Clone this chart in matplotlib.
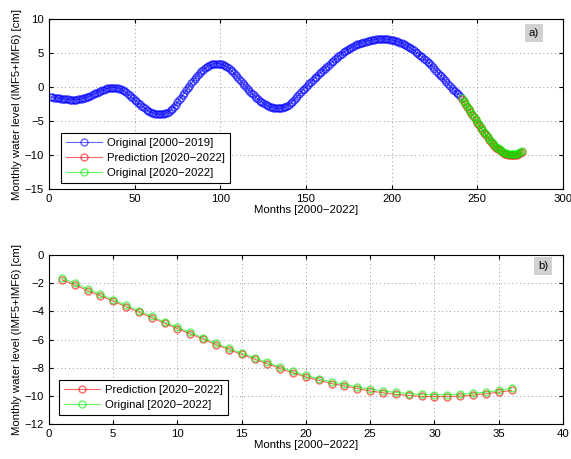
import matplotlib

matplotlib.use("Agg")
import matplotlib.pyplot as plt
import numpy as np

plt.rcParams["font.family"] = ["Liberation Sans", "DejaVu Sans"]
plt.rcParams["font.size"] = 8.2

# IMF5+IMF6 reconstruction, monthly, 2000-2019 (months 1..240)
orig_hist = [
    -1.45, -1.50, -1.55, -1.59, -1.63, -1.67, -1.71, -1.74, -1.77, -1.80, -1.82, -1.84,
    -1.85, -1.86, -1.86, -1.85, -1.83, -1.79, -1.74, -1.68, -1.60, -1.51, -1.41, -1.30,
    -1.18, -1.06, -0.94, -0.82, -0.70, -0.58, -0.47, -0.37, -0.28, -0.20, -0.14, -0.10,
    -0.08, -0.08, -0.11, -0.17, -0.22, -0.32, -0.45, -0.62, -0.80, -1.00, -1.21, -1.43,
    -1.66, -1.89, -2.12, -2.34, -2.56, -2.77, -2.97, -3.16, -3.33, -3.49, -3.63, -3.75,
    -3.85, -3.93, -3.99, -4.03, -4.04, -4.02, -3.97, -3.89, -3.77, -3.61, -3.41, -3.17,
    -2.89, -2.58, -2.25, -1.91, -1.56, -1.20, -0.84, -0.48, -0.13, 0.21, 0.54, 0.86,
    1.20, 1.52, 1.82, 2.10, 2.35, 2.57, 2.77, 2.94, 3.09, 3.21, 3.31, 3.38,
    3.43, 3.45, 3.44, 3.40, 3.33, 3.23, 3.10, 2.94, 2.75, 2.54, 2.31, 2.06,
    1.79, 1.51, 1.22, 0.92, 0.62, 0.32, 0.02, -0.27, -0.55, -0.82, -1.08, -1.33,
    -1.57, -1.79, -2.00, -2.19, -2.37, -2.53, -2.67, -2.80, -2.91, -3.00, -3.07, -3.12,
    -3.15, -3.15, -3.13, -3.08, -3.00, -2.89, -2.75, -2.58, -2.38, -2.15, -1.90, -1.62,
    -1.35, -1.07, -0.79, -0.51, -0.24, 0.03, 0.29, 0.55, 0.80, 1.05, 1.29, 1.53,
    1.77, 2.00, 2.23, 2.46, 2.69, 2.92, 3.15, 3.38, 3.61, 3.84, 4.07, 4.29,
    4.50, 4.71, 4.91, 5.10, 5.28, 5.45, 5.61, 5.76, 5.90, 6.03, 6.15, 6.26,
    6.36, 6.45, 6.54, 6.62, 6.69, 6.76, 6.82, 6.88, 6.93, 6.98, 7.02, 7.05,
    7.07, 7.08, 7.08, 7.07, 7.05, 7.02, 6.98, 6.93, 6.87, 6.80, 6.72, 6.63,
    6.53, 6.42, 6.30, 6.17, 6.03, 5.88, 5.72, 5.55, 5.37, 5.18, 4.98, 4.77,
    4.60, 4.40, 4.18, 3.95, 3.72, 3.48, 3.23, 2.97, 2.70, 2.42, 2.13, 1.83,
    1.55, 1.27, 0.99, 0.71, 0.43, 0.16, -0.11, -0.37, -0.62, -0.86, -1.09, -1.31,
]

# 2020-2022 (36 months): model prediction vs. observed
prediction = [
    -1.75, -2.12, -2.52, -2.90, -3.28, -3.67, -4.07, -4.45, -4.85, -5.23, -5.60, -5.98,
    -6.37, -6.72, -7.06, -7.40, -7.73, -8.06, -8.38, -8.66, -8.90, -9.13, -9.30, -9.48,
    -9.66, -9.78, -9.90, -9.97, -10.04, -10.06, -10.06, -10.02, -9.95, -9.86, -9.74, -9.62,
]
orig_test = [
    -1.62, -2.00, -2.40, -2.79, -3.17, -3.56, -3.96, -4.35, -4.75, -5.13, -5.50, -5.88,
    -6.27, -6.62, -6.96, -7.30, -7.63, -7.96, -8.27, -8.55, -8.79, -9.01, -9.18, -9.36,
    -9.53, -9.65, -9.76, -9.84, -9.90, -9.92, -9.92, -9.89, -9.83, -9.74, -9.62, -9.47,
]

lbl_hist = "Original [2000\u22122019]"
lbl_pred = "Prediction [2020\u22122022]"
lbl_test = "Original [2020\u22122022]"
xlabel = "Months [2000\u22122022]"
ylabel = "Monthly water level (IMF5+IMF6) [cm]"

months_hist = np.arange(1, len(orig_hist) + 1)
months_test = np.arange(1, len(prediction) + 1)
months_test_full = months_hist[-1] + months_test

BLUE = "#0000ff"
RED = "#ff0000"
GREEN = "#00ee00"


def series(ax, x, y, color, label):
    # thin line with open circles, all semi-transparent
    ax.plot(x, y, "-o", color=color, alpha=0.6, lw=0.8, ms=5,
            mfc="none", mec=color, mew=1.0, label=label)


def add_legend(ax, anchor):
    leg = ax.legend(loc="lower left", bbox_to_anchor=anchor, borderaxespad=0,
                    fancybox=False, framealpha=1, edgecolor="black",
                    handlelength=3.2, borderpad=0.45, labelspacing=0.45,
                    handletextpad=0.4)
    leg.get_frame().set_linewidth(0.8)
    leg.get_frame().set_alpha(None)
    return leg


def style_axes(ax, xlim, ylim, xstep, ystep, tag, tag_pos):
    ax.set_xlim(*xlim)
    ax.set_ylim(*ylim)
    ax.set_xticks(np.arange(xlim[0], xlim[1] + 1e-9, xstep))
    ax.set_yticks(np.arange(ylim[0], ylim[1] + 1e-9, ystep))
    ax.grid(True, linestyle=(0, (1, 3)), color="0.6", lw=0.7)
    ax.tick_params(direction="in", top=True, right=True, length=3)
    for sp in ax.spines.values():
        sp.set_linewidth(0.8)
    ax.set_xlabel(xlabel, labelpad=1)
    ax.set_ylabel(ylabel, labelpad=2)
    ax.text(tag_pos[0], tag_pos[1], tag, transform=ax.transAxes,
            ha="center", va="center",
            bbox=dict(facecolor="0.82", edgecolor="none", pad=3))


fig = plt.figure(figsize=(5.71, 4.59), dpi=100)

# a) whole record with forecast tail
ax1 = fig.add_axes([0.0858, 0.5882, 0.900, 0.3704])
series(ax1, months_hist, orig_hist, BLUE, lbl_hist)
series(ax1, months_test_full, prediction, RED, lbl_pred)
series(ax1, months_test_full, orig_test, GREEN, lbl_test)
style_axes(ax1, (0, 300), (-15, 10), 50, 5, "a)", (0.944, 0.918))
add_legend(ax1, (0.023, 0.035))

# b) zoom on the 2020-2022 forecast
ax2 = fig.add_axes([0.0858, 0.0763, 0.900, 0.368])
series(ax2, months_test, prediction, RED, lbl_pred)
series(ax2, months_test, orig_test, GREEN, lbl_test)
style_axes(ax2, (0, 40), (-12, 0), 5, 2, "b)", (0.961, 0.935))
add_legend(ax2, (0.019, 0.053))

fig.savefig("out.png", dpi=100)
plt.close(fig)
